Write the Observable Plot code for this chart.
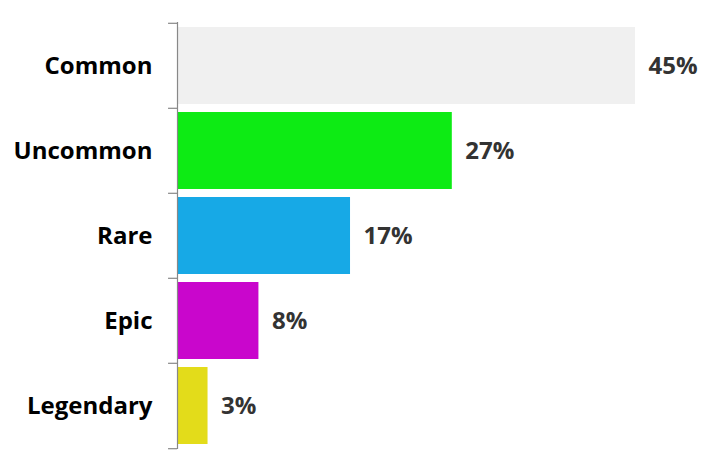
<!DOCTYPE html>
<html>
<head>
<meta charset="utf-8">
<script src="https://cdn.jsdelivr.net/npm/d3@7"></script>
<script src="https://cdn.jsdelivr.net/npm/@observablehq/plot@0.6"></script>
<style>
  html, body { margin: 0; padding: 0; background: #fff; }
  svg { font-family: "Open Sans", sans-serif; }
</style>
</head>
<body>
<div id="chart"></div>
<script>
const categories = ["Common", "Uncommon", "Rare", "Epic", "Legendary"];
const values = [45, 27, 17, 8, 3];
const colors = ["#f0f0f0", "#0deb14", "#17a9e6", "#c906cc", "#e3dc1a"];

const data = categories.map((c, i) => ({cat: c, value: values[i], color: colors[i]}));

const width = 709, height = 472;
const marginTop = 22, marginBottom = 23, marginLeft = 177, marginRight = 74;
const step = (height - marginTop - marginBottom) / categories.length;

const chart = Plot.plot({
  width, height, marginTop, marginBottom, marginLeft, marginRight,
  x: {domain: [0, 45], axis: null},
  y: {domain: categories, paddingInner: 0.1, paddingOuter: 0.05, label: null},
  style: {fontFamily: "Open Sans, sans-serif"},
  marks: [
    Plot.barX(data, {y: "cat", x: "value", fill: "color", insetLeft: 1}),
    Plot.ruleY(categories, {y: d => d, x1: -0.88, x2: 0, dy: -step / 2, stroke: "#888", strokeWidth: 1.2}),
    Plot.ruleY(categories.slice(-1), {y: d => d, x1: -0.88, x2: 0, dy: step / 2, stroke: "#888", strokeWidth: 1.2}),
    Plot.ruleX([0], {stroke: "#888", strokeWidth: 1.2}),
    Plot.axisY({tickSize: 0, tickPadding: 25, fontSize: 24, fontWeight: "bold", fill: "#000", label: null}),
    Plot.text(data, {y: "cat", x: "value", text: d => d.value + "%", dx: 13, textAnchor: "start", fill: "#333", fontSize: 24, fontWeight: "bold"})
  ]
});
document.getElementById("chart").appendChild(chart);
</script>
</body>
</html>
